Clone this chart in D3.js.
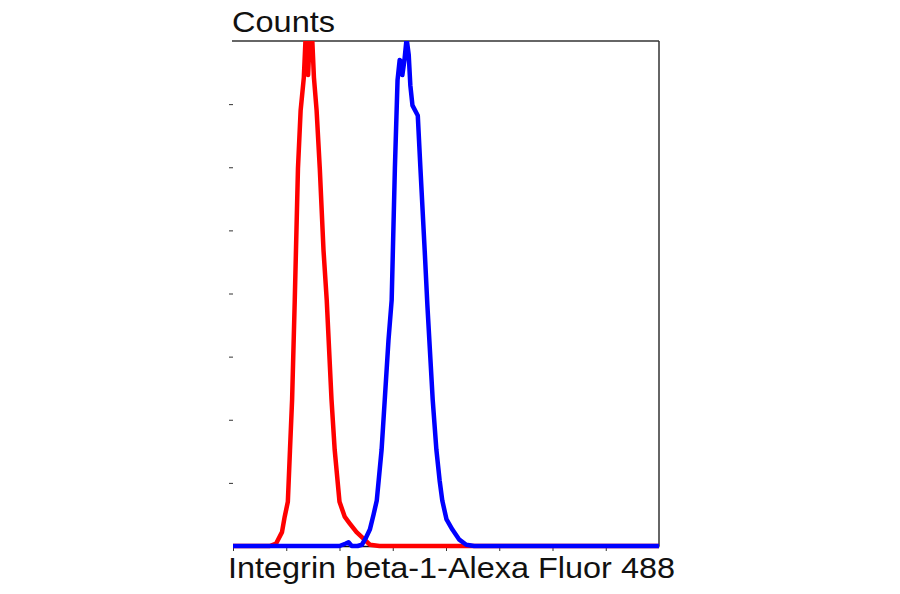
<!DOCTYPE html>
<html>
<head>
<meta charset="utf-8">
<script src="https://cdn.jsdelivr.net/npm/d3@7"></script>
<style>
	body { margin: 0; background: #fff; }
	text { font-family: "Liberation Sans", Arial, sans-serif; fill: #111; }
</style>
</head>
<body>
<div id="chart"></div>
<script>

// channel values (arbitrary fluorescence units, 8 decades => 0..800)
var isoX    = [0,69,81,92,97,103,107,111,116,122,127,133,137,141,144,148,152,157,163,170,176,185,191,200,210,219,232,247,257,275,800];
var isoY    = [0,0,2,11,23,35,76,116,195,299,345,371,409,373,401,409,371,345,299,234,195,116,76,35,23,18,11,5,1,0,0];

var stainX  = [0,200,212,217,223,234,242,249,257,264,270,279,285,292,298,304,309,313,317,318,322,326,330,333,337,347,352,360,365,375,382,388,393,401,412,425,438,453,800];
var stainY  = [0,0,2,3,0,0,1,6,13,25,36,76,116,163,195,299,369,385,383,373,385,402,389,365,349,341,299,234,191,116,76,52,36,21,13,5,1,0,0];

var xTicks  = [0,100,200,300,400,500,600,700];
var yTicks  = [50,100,150,200,250,300,350];

var yLabel  = "Counts";
var xLabel  = "Integrin beta-1-Alexa Fluor 488";

var W = 900, H = 594;
var margin = { left: 233, right: 659, top: 41, bottom: 546 };

var svg = d3.select("#chart")
	.append("svg")
	.attr("width", W)
	.attr("height", H);

var x = d3.scaleLinear().domain([0, 800]).range([margin.left, margin.right]);
var y = d3.scaleLinear().domain([0, 400]).range([margin.bottom, margin.top]);

svg.append("defs").append("clipPath")
	.attr("id", "plot")
	.append("rect")
	.attr("x", margin.left)
	.attr("y", margin.top)
	.attr("width", margin.right - margin.left + 1)
	.attr("height", margin.bottom - margin.top + 3);

// bottom axis, ticks only below
svg.append("g")
	.attr("transform", "translate(0," + margin.bottom + ")")
	.call(d3.axisBottom(x).tickValues(xTicks).tickSize(5).tickSizeOuter(0).tickFormat(""))
	.call(function(g) {
		g.select(".domain").attr("stroke", "#111").attr("stroke-width", 1.5);
		g.selectAll(".tick line").attr("stroke", "#333");
	});

// left ticks, no spine
svg.append("g")
	.attr("transform", "translate(" + margin.left + ",0)")
	.call(d3.axisLeft(y).tickValues(yTicks).tickSize(4).tickFormat(""))
	.call(function(g) {
		g.select(".domain").remove();
		g.selectAll(".tick line").attr("stroke", "#333");
	});

// top and right frame
svg.append("line")
	.attr("x1", margin.left - 1).attr("x2", margin.right)
	.attr("y1", margin.top).attr("y2", margin.top)
	.attr("stroke", "#333").attr("stroke-width", 1.5);

svg.append("line")
	.attr("x1", margin.right).attr("x2", margin.right)
	.attr("y1", margin.top).attr("y2", margin.bottom)
	.attr("stroke", "#333").attr("stroke-width", 1.5);

var line = d3.line()
	.x(function(d) { return x(d[0]); })
	.y(function(d) { return y(d[1]); });

var curves = svg.append("g").attr("clip-path", "url(#plot)");

curves.append("path")
	.datum(d3.zip(isoX, isoY))
	.attr("d", line)
	.attr("fill", "none")
	.attr("stroke", "#ff0000")
	.attr("stroke-width", 4.5)
	.attr("stroke-linejoin", "round");

curves.append("path")
	.datum(d3.zip(stainX, stainY))
	.attr("d", line)
	.attr("fill", "none")
	.attr("stroke", "#0000ff")
	.attr("stroke-width", 4.5)
	.attr("stroke-linejoin", "round");

svg.append("text")
	.attr("x", 232)
	.attr("y", 32)
	.attr("font-size", 29)
	.attr("textLength", 103)
	.attr("lengthAdjust", "spacingAndGlyphs")
	.text(yLabel);

svg.append("text")
	.attr("x", 228)
	.attr("y", 578)
	.attr("font-size", 30)
	.attr("textLength", 447)
	.attr("lengthAdjust", "spacingAndGlyphs")
	.text(xLabel);

</script>
</body>
</html>
